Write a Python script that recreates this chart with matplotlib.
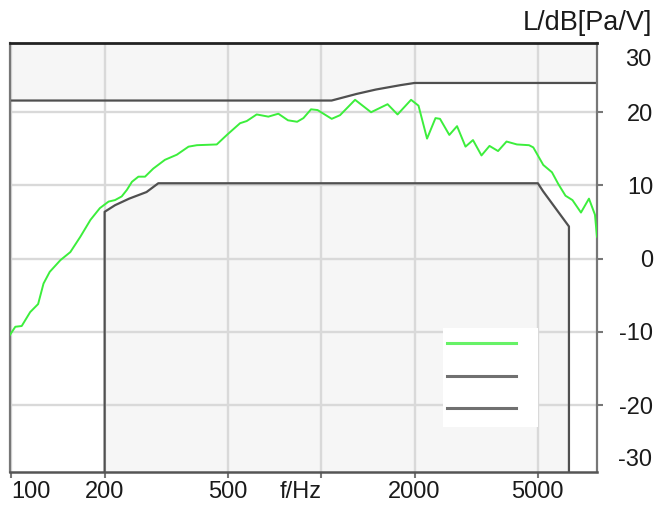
import numpy as np
import matplotlib
matplotlib.use("Agg")
import matplotlib.pyplot as plt
from matplotlib.ticker import NullLocator
from matplotlib.patches import Rectangle
from matplotlib.lines import Line2D

plt.rcParams['font.family'] = ['Liberation Sans', 'DejaVu Sans']

#%% Data
# measured response, f in Hz, L in dB[Pa/V]
resp_f = [99, 103, 108, 115, 122, 127, 133, 144, 155, 167, 180, 193, 206, 216, 227, 236,
          245, 257, 270, 287, 313, 342, 373, 397, 460, 496, 547, 575, 619, 675, 727, 781,
          836, 876, 927, 973, 1081, 1150, 1286, 1448, 1637, 1763, 1949, 2060, 2195, 2337,
          2417, 2590, 2743, 2921, 3088, 3289, 3491, 3720, 3962, 4281, 4682, 4833, 5206,
          5553, 5820, 6140, 6467, 6888, 7310, 7644, 7757]
resp_L = [-10.4, -9.3, -9.2, -7.3, -6.2, -3.4, -1.8, -0.2, 0.9, 3.0, 5.3, 6.9, 7.8, 8.0, 8.5, 9.4,
          10.5, 11.2, 11.2, 12.3, 13.5, 14.2, 15.3, 15.5, 15.6, 16.9, 18.5, 18.8, 19.7, 19.4, 19.8, 18.9,
          18.7, 19.2, 20.4, 20.3, 19.1, 19.6, 21.7, 20.0, 21.1, 19.7, 21.7, 20.9, 16.4, 19.2,
          19.1, 16.9, 18.1, 15.3, 16.2, 14.1, 15.4, 14.7, 16.0, 15.6, 15.5, 15.2, 12.8,
          11.8, 10.2, 8.6, 8.0, 6.3, 8.2, 6.0, 3.0]

# upper tolerance limit
upper_f = [99, 1080, 1300, 1500, 1800, 2000, 7760]
upper_L = [21.6, 21.6, 22.5, 23.1, 23.7, 24.0, 24.0]

# lower tolerance limit
lower_f = [200, 216, 240, 273, 298, 5000, 5200, 6200, 6300]
lower_L = [6.4, 7.3, 8.2, 9.1, 10.3, 10.3, 9.2, 4.8, 4.4]

x_ticks = [100, 200, 500, 1000, 2000, 5000]
x_labels = ['100', '200', '500', 'f/Hz', '2000', '5000']
y_ticks = [-20, -10, 0, 10, 20]
y_labels = ['-20', '-10', '0', '10', '20']
y_end_ticks = [-27.1, 27.5]
y_end_labels = ['-30', '30']

xlim = (99, 7760)
ylim = (-29.1, 29.5)

#%% Plot
fig = plt.figure(figsize=(6.56, 5.09), dpi=100)
ax = fig.add_axes([10/656, (509-471.7)/509, 587/656, 429/509])
ax.set_xscale('log')
ax.set_xlim(*xlim)
ax.set_ylim(*ylim)

fill_c = '#f6f6f6'
line_c = '#505050'

ax.fill_between(upper_f, upper_L, ylim[1], color=fill_c, lw=0, zorder=1)
ax.plot(upper_f, upper_L, color=line_c, lw=1.6, zorder=2.5)

ax.fill_between(lower_f, lower_L, ylim[0], color=fill_c, lw=0, zorder=1)
lf = np.concatenate([[lower_f[0]], lower_f, [lower_f[-1]]])
lL = np.concatenate([[ylim[0]], lower_L, [ylim[0]]])
ax.plot(lf, lL, color=line_c, lw=1.6, zorder=2.5, clip_on=False)

ax.plot(resp_f, resp_L, color='#3cee3c', lw=1.4, zorder=3)

ax.grid(True, which='major', color='#d9d9d9', lw=1.7)
ax.set_xticks(x_ticks, labels=x_labels)
ax.xaxis.set_minor_locator(NullLocator())
ax.set_yticks(y_ticks, labels=y_labels)
ax.set_yticks(y_end_ticks, labels=y_end_labels, minor=True)

ax.yaxis.tick_right()
ax.tick_params(axis='both', which='both', labelsize=17, colors='#777777', labelcolor='#1a1a1a')
ax.tick_params(axis='y', which='major', length=4, width=1.5, pad=36.5)
ax.tick_params(axis='y', which='minor', length=0, pad=39.4)
ax.tick_params(axis='x', length=4, width=1.5, pad=3)
for lab in ax.get_yticklabels(which='both'):
    lab.set_horizontalalignment('right')
xl = ax.get_xticklabels()
xl[0].set_horizontalalignment('left')
xl[3].set_horizontalalignment('right')

for side in ['left', 'right']:
    ax.spines[side].set_color('#777777')
    ax.spines[side].set_linewidth(1.6)
ax.spines['bottom'].set_color('#555555')
ax.spines['bottom'].set_linewidth(1.8)
ax.spines['top'].set_color('#222222')
ax.spines['top'].set_linewidth(2)

fig.text(652/656, 1 - 23/509, 'L/dB[Pa/V]', ha='right', va='center', fontsize=19.5, color='#1a1a1a')

# legend box without text
ax.add_patch(Rectangle((0.7376, 0.1042), 0.1618, 0.2308, transform=ax.transAxes,
                       facecolor='white', edgecolor='none', zorder=4))
for yy, cc in [(0.300, '#66f266'), (0.2231, '#707070'), (0.1485, '#707070')]:
    ax.add_line(Line2D([0.7445, 0.8620], [yy, yy], transform=ax.transAxes, color=cc, lw=2.2, zorder=5))

fig.savefig('out.png', dpi=100)
